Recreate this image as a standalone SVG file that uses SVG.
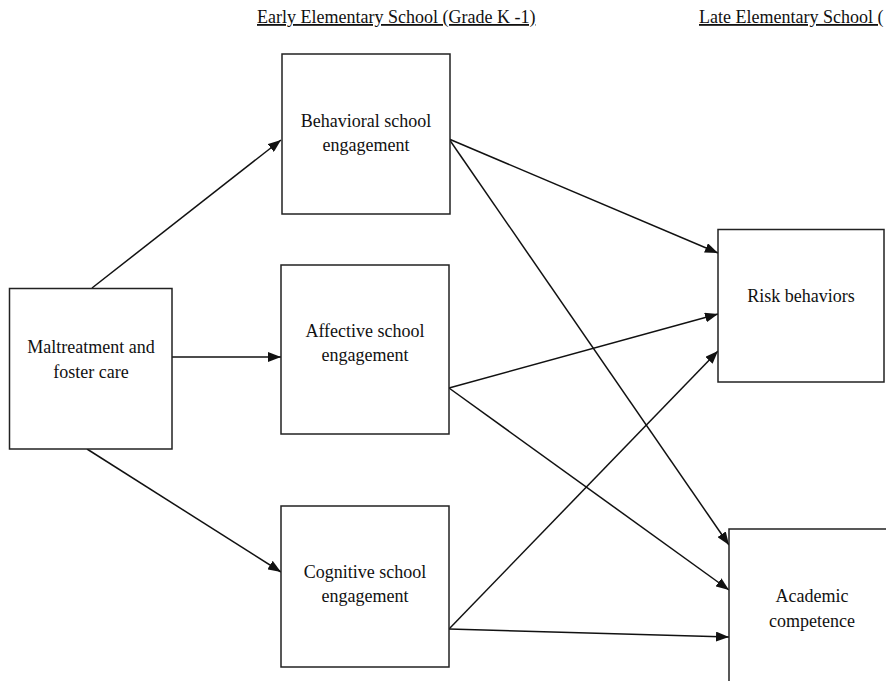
<svg xmlns="http://www.w3.org/2000/svg" width="886" height="681" viewBox="0 0 886 681">
<defs>
<style>
.box{fill:#fff;stroke:#222;stroke-width:1.5}
.t{font-family:"Liberation Serif","Times New Roman",serif;font-size:18px;fill:#111;text-anchor:middle}
.h{font-family:"Liberation Serif","Times New Roman",serif;font-size:18px;fill:#111;text-decoration:underline}
.c{stroke:#111;stroke-width:1.5;fill:none;marker-end:url(#ah)}
</style>
<marker id="ah" markerUnits="userSpaceOnUse" markerWidth="14" markerHeight="10" refX="13" refY="5" orient="auto">
<path d="M0,0 L13,5 L0,10 Z" fill="#111"/>
</marker>
</defs>
<rect width="886" height="681" fill="#fff"/>
<g id="headers">
<text class="h" x="257" y="23">Early Elementary School (Grade K -1)</text>
<text class="h" x="699" y="23">Late Elementary School (</text>
</g>
<g id="connectors">
<line class="c" x1="92" y1="288" x2="281" y2="140"/>
<line class="c" x1="172" y1="357" x2="281" y2="357"/>
<line class="c" x1="87" y1="449" x2="281" y2="572"/>
<line class="c" x1="449" y1="139" x2="718" y2="253"/>
<line class="c" x1="449" y1="139" x2="729" y2="545"/>
<line class="c" x1="449" y1="388" x2="718" y2="314"/>
<line class="c" x1="449" y1="388" x2="729" y2="590"/>
<line class="c" x1="449" y1="629" x2="718" y2="351"/>
<line class="c" x1="449" y1="629" x2="729" y2="637"/>
</g>
<g id="maltreatment">
<rect class="box" x="9.5" y="288.5" width="162.5" height="160.5"/>
<text class="t" x="91" y="353">Maltreatment and</text>
<text class="t" x="91" y="378">foster care</text>
</g>
<g id="behavioral">
<rect class="box" x="282" y="54" width="168" height="160"/>
<text class="t" x="366" y="127">Behavioral school</text>
<text class="t" x="366" y="151">engagement</text>
</g>
<g id="affective">
<rect class="box" x="281" y="265" width="168" height="169"/>
<text class="t" x="365" y="337">Affective school</text>
<text class="t" x="365" y="361">engagement</text>
</g>
<g id="cognitive">
<rect class="box" x="281" y="506" width="168" height="161"/>
<text class="t" x="365" y="578">Cognitive school</text>
<text class="t" x="365" y="602">engagement</text>
</g>
<g id="risk">
<rect class="box" x="718" y="229.5" width="166" height="152.5"/>
<text class="t" x="801" y="302">Risk behaviors</text>
</g>
<g id="academic">
<rect class="box" x="729" y="529" width="170" height="170"/>
<text class="t" x="812" y="602">Academic</text>
<text class="t" x="812" y="627">competence</text>
</g>
</svg>
